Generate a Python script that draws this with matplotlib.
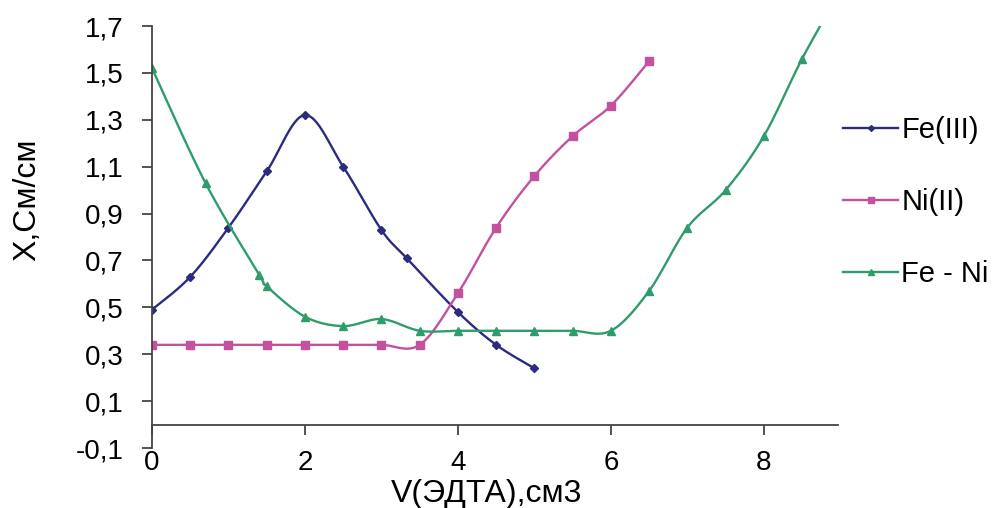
import numpy as np
import matplotlib
matplotlib.use('agg')
import matplotlib.pyplot as plt
from matplotlib.ticker import FuncFormatter

# Data
fe_x = [0, 0.5, 1, 1.5, 2, 2.5, 3, 3.33, 4, 4.5, 5]
fe_y = [0.49, 0.63, 0.84, 1.08, 1.32, 1.10, 0.83, 0.71, 0.48, 0.34, 0.24]

ni_x = [0, 0.5, 1, 1.5, 2, 2.5, 3, 3.5, 4, 4.5, 5, 5.5, 6, 6.5]
ni_y = [0.34, 0.34, 0.34, 0.34, 0.34, 0.34, 0.34, 0.34, 0.56, 0.84, 1.06, 1.23, 1.36, 1.55]

feni_x = [0, 0.7, 1.4, 1.5, 2, 2.5, 3, 3.5, 4, 4.5, 5, 5.5, 6, 6.5, 7, 7.5, 8, 8.5, 9]
feni_y = [1.52, 1.03, 0.64, 0.59, 0.46, 0.42, 0.45, 0.40, 0.40, 0.40, 0.40, 0.40, 0.40, 0.57, 0.84, 1.00, 1.23, 1.56, 1.85]

labels = ['Fe(III)', 'Ni(II)', 'Fe - Ni']
colors = ['#2b2b80', '#c4509e', '#2f9c6c']
markers = ['D', 's', '^']
msizes = [4, 5.5, 5.5]

y_ticks = [-0.1, 0.1, 0.3, 0.5, 0.7, 0.9, 1.1, 1.3, 1.5, 1.7]
x_ticks = [0, 2, 4, 6, 8]


def smooth(x, y, n=30):
    # Excel-like smoothing: Catmull-Rom bezier between points
    x = np.asarray(x, float)
    y = np.asarray(y, float)
    px = np.concatenate([[x[0]], x, [x[-1]]])
    py = np.concatenate([[y[0]], y, [y[-1]]])
    xs, ys = [], []
    t = np.linspace(0, 1, n)
    for i in range(1, len(px) - 2):
        p0 = np.array([px[i], py[i]])
        p3 = np.array([px[i + 1], py[i + 1]])
        c1 = p0 + (p3 - np.array([px[i - 1], py[i - 1]])) / 6
        c2 = p3 - (np.array([px[i + 2], py[i + 2]]) - p0) / 6
        b = ((1 - t) ** 3)[:, None] * p0 + (3 * (1 - t) ** 2 * t)[:, None] * c1 \
            + (3 * (1 - t) * t ** 2)[:, None] * c2 + (t ** 3)[:, None] * p3
        xs.append(b[:, 0])
        ys.append(b[:, 1])
    return np.concatenate(xs), np.concatenate(ys)


plt.rcParams['font.family'] = ['Liberation Sans', 'DejaVu Sans']

fig = plt.figure(figsize=(9.92, 5.08), dpi=100)
ax = fig.add_axes([152 / 992, 60 / 508, (838 - 152) / 992, (448 - 26) / 508])

series = [(fe_x, fe_y), (ni_x, ni_y), (feni_x, feni_y)]
for (sx, sy), lab, col, mk, ms in zip(series, labels, colors, markers, msizes):
    xx, yy = smooth(sx, sy)
    ax.plot(xx, yy, color=col, lw=1.7, solid_capstyle='round')
    ax.plot(sx, sy, ls='none', marker=mk, color=col, ms=ms)
    ax.plot([], [], color=col, lw=1.7, marker=mk, ms=ms - 1, label=lab)

ax.set_xlim(0, 8.97)
ax.set_ylim(-0.1, 1.7)
ax.set_xticks(x_ticks)
ax.set_yticks(y_ticks)

fmt = FuncFormatter(lambda v, p: ('%.1f' % v).replace('.', ','))
ax.yaxis.set_major_formatter(fmt)
ax.xaxis.set_major_formatter(FuncFormatter(lambda v, p: '%d' % v))

ax.spines['top'].set_visible(False)
ax.spines['right'].set_visible(False)
ax.spines['bottom'].set_position(('data', 0))
for s in ['left', 'bottom']:
    ax.spines[s].set_color('#444444')
    ax.spines[s].set_linewidth(1.3)

ax.tick_params(axis='y', direction='out', length=7.5, width=1.3, color='#444444',
               labelsize=20, pad=13)
ax.tick_params(axis='x', direction='out', length=7, width=1.3, color='#444444',
               labelsize=20, pad=11)

ax.set_xlabel('V(ЭДТА),см3', fontsize=23, va='center')
ax.set_ylabel('X,См/см', fontsize=23, va='center')
ax.xaxis.set_label_coords(0.488, -0.109)
ax.yaxis.set_label_coords(-0.182, 0.588)

ax.legend(loc='center left', bbox_to_anchor=(843 / 992, 1 - 202 / 508),
          bbox_transform=fig.transFigure, frameon=False, fontsize=21,
          handlelength=1.9, handletextpad=0.1, labelspacing=1.5,
          borderaxespad=0, borderpad=0)

fig.savefig('out.png', dpi=100)
